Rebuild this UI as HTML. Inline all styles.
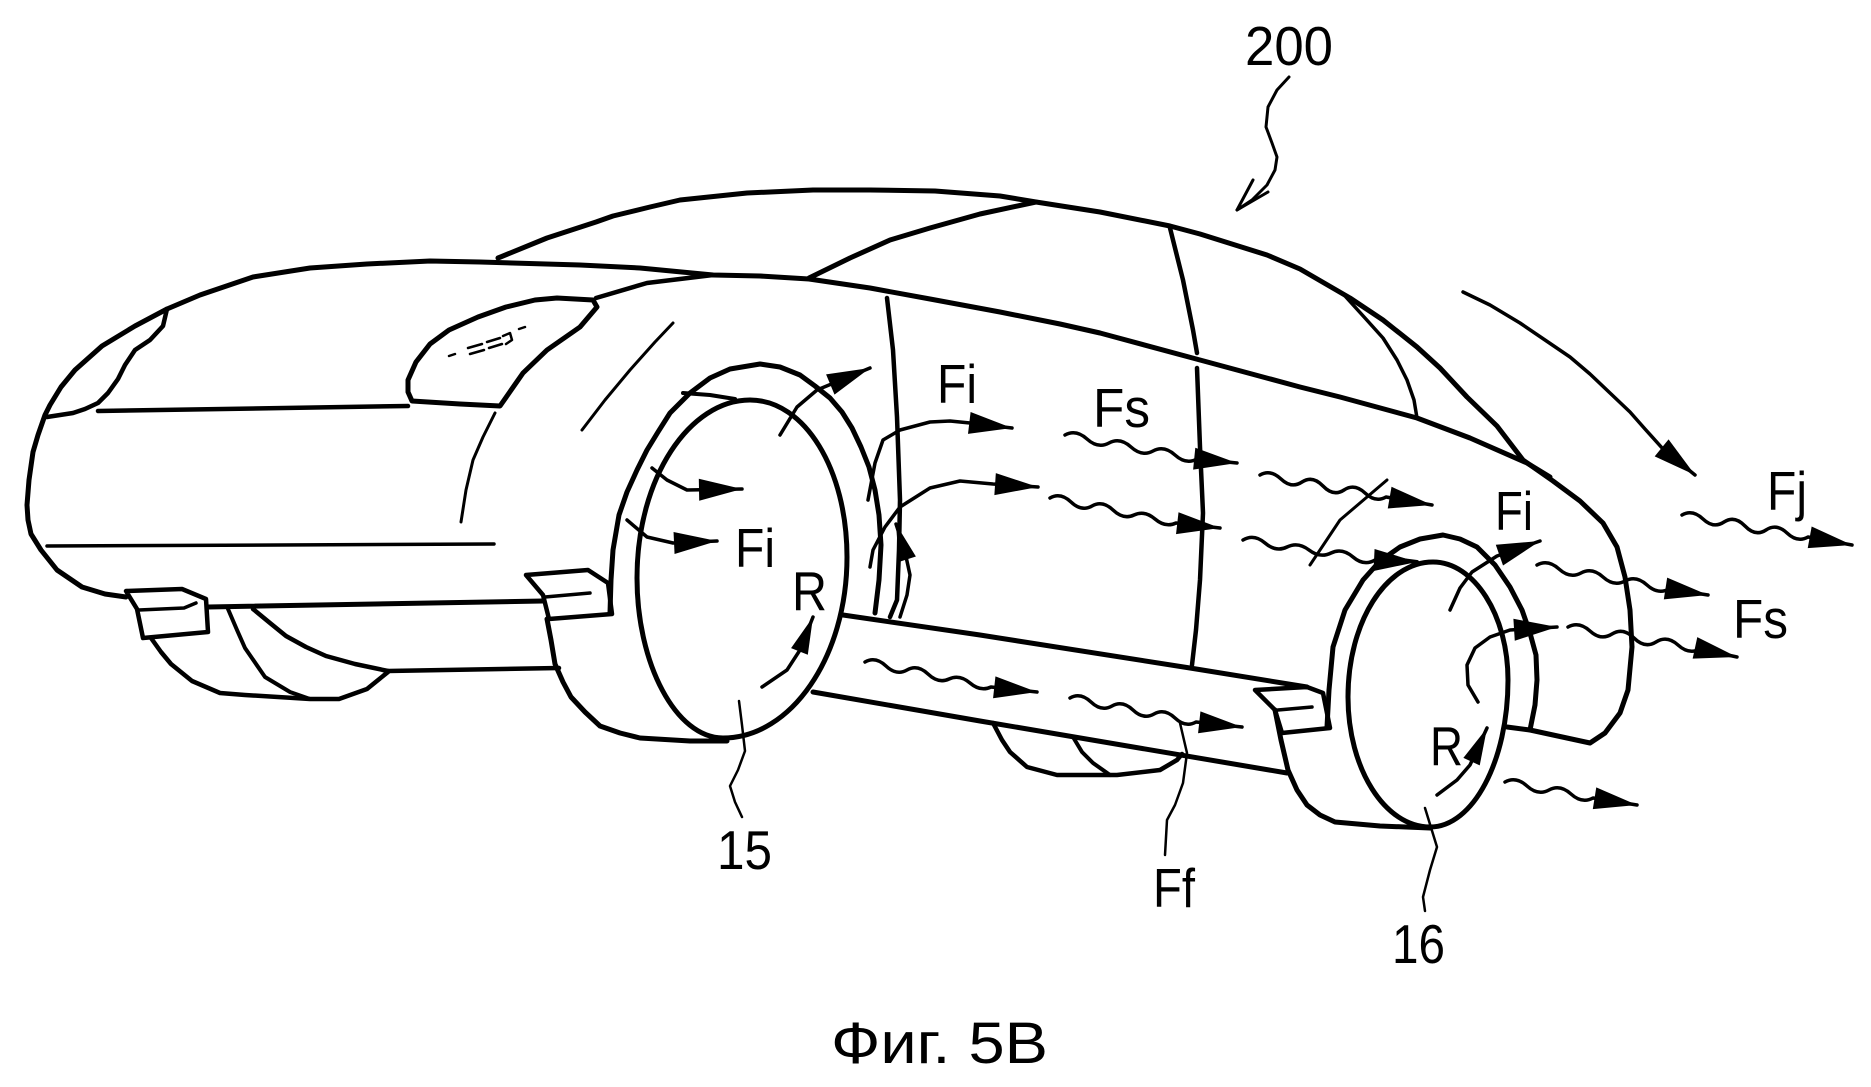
<!DOCTYPE html>
<html><head><meta charset="utf-8"><style>
html,body{margin:0;padding:0;background:#fff;}
svg{display:block;}
text{font-family:"Liberation Sans","DejaVu Sans",sans-serif;fill:#000;}
</style></head><body>
<svg width="1871" height="1087" viewBox="0 0 1871 1087" xmlns="http://www.w3.org/2000/svg">
<defs>
<marker id="a" markerUnits="userSpaceOnUse" markerWidth="46" markerHeight="26" viewBox="0 0 46 26" refX="44" refY="13" orient="auto"><path d="M1,2 L44,13 L1,24 Z" fill="#000" stroke="none"/></marker>
<marker id="s" markerUnits="userSpaceOnUse" markerWidth="40" markerHeight="22" viewBox="0 0 40 22" refX="38" refY="11" orient="auto"><path d="M1,2 L38,11 L1,20 Z" fill="#000" stroke="none"/></marker>
</defs>
<rect width="1871" height="1087" fill="#fff"/>
<g fill="none" stroke="#000" stroke-linejoin="round" stroke-linecap="round">
<!-- roof arc + rear fender -->
<polyline stroke-width="5" points="498,258 547,238 596,222 613,216 650,207 680,200 747,193 813,190 870,190 935,191 1000,196 1036,202 1100,212 1170,226 1200,234 1267,255 1300,269 1350,298 1383,320 1417,347 1440,368 1467,397 1497,426 1523,460 1553,481 1580,501 1603,523 1617,547 1625,577 1630,610 1632,647 1628,690 1620,713 1605,733 1590,743 1530,730 1507,727"/>
<!-- windshield -->
<polyline stroke-width="5" points="809,278 850,258 890,240 930,228 980,214 1036,202"/>
<!-- hood / belt line -->
<polyline stroke-width="5" points="167,309 200,295 253,277 310,268 367,264 430,261 480,262 580,265 640,268 713,275 760,276 809,279 870,288 930,299 1000,312 1060,324 1100,333 1200,360 1300,387 1340,397 1417,418 1470,438 1527,463 1550,477"/>
<!-- fender line -->
<polyline stroke-width="4.5" points="596,298 647,283 713,275"/>
<!-- headlamp -->
<polygon stroke-width="5" points="412,401 460,404 500,406 523,373 547,350 580,327 597,307 593,300 557,298 535,300 506,307 478,317 449,330 430,344 416,362 408,380 408,392"/>
<g stroke-width="2.5">
<line x1="449" y1="356" x2="455" y2="354"/>
<line x1="468" y1="348" x2="482" y2="344"/>
<line x1="470" y1="354" x2="484" y2="350"/>
<line x1="487" y1="342" x2="500" y2="338"/>
<line x1="489" y1="348" x2="502" y2="344"/>
<polyline points="503,336 510,333 512,340 506,344"/>
<line x1="519" y1="329" x2="525" y2="327"/>
</g>
<!-- nose -->
<polyline stroke-width="5" points="167,309 135,326 102,346 75,370 61,387 50,405 45,415 38,435 33,452 29,480 27,505 28,520 31,534 41,550 57,570 82,587 105,594 126,597"/>
<!-- lens -->
<polyline stroke-width="4.5" points="167,309 163,326 150,340 135,350 125,365 118,379 108,393 98,403 85,409 73,413 47,417"/>
<line stroke-width="4.5" x1="98" y1="411" x2="408" y2="406"/>
<line stroke-width="3.5" x1="47" y1="546" x2="494" y2="544"/>
<!-- creases -->
<polyline stroke-width="3" points="495,413 483,437 473,460 466,490 461,522"/>
<polyline stroke-width="3" points="673,323 655,342 630,370 605,400 582,430"/>
<!-- left step box -->
<polygon stroke-width="4.5" points="126,591 182,589 206,599 208,632 143,638 137,609"/>
<polyline stroke-width="3.5" points="139,610 184,608 196,603"/>
<!-- body bottom -->
<line stroke-width="5" x1="208" y1="607" x2="543" y2="601"/>
<!-- right front step box -->
<polygon stroke-width="4.5" points="526,575 588,570 608,583 612,614 549,619 543,595"/>
<line stroke-width="3.5" x1="545" y1="597" x2="590" y2="593"/>
<!-- far front wheel -->
<polyline stroke-width="4.5" points="151,638 161,652 171,664 192,681 220,693 245,695 310,699 339,699 367,689 388,672"/>
<polyline stroke-width="4" points="228,609 237,630 245,648 265,677 290,692 310,699"/>
<polyline stroke-width="4.5" points="253,609 270,623 286,636 306,647 326,656 355,664 388,671"/>
<line stroke-width="4.5" x1="388" y1="671" x2="559" y2="668"/>
<!-- front tire -->
<polyline stroke-width="5" points="547,619 551,640 555,664 563,682 571,697 585,712 600,726 620,733 640,738 690,741 727,741"/>
<polyline stroke-width="5" points="610,613 611,580 613,550 619,515 627,492 637,470 647,450 658,432 670,413 690,393 710,378 730,369 760,364 780,367 800,375 815,386 830,398 842,412 852,428 861,447 869,467 875,490 879,515 881,545 879,580 875,613"/>
<path stroke-width="5" d="M750,400 C805,400 847,470 847,557 C847,657 791,738 723,738 C676,738 637,664 637,578 C637,477 690,400 750,400 Z"/>
<polyline stroke-width="4" points="683,393 710,395 735,399"/>
<!-- sills -->
<polyline stroke-width="5" points="843,615 980,635 1190,668 1307,687"/>
<polyline stroke-width="5" points="813,692 980,721 1287,773"/>
<!-- door line & B pillar -->
<polyline stroke-width="4.5" points="887,298 893,350 897,417 900,500 899,550 897,600 890,617"/>
<polyline stroke-width="4.5" points="1170,228 1183,280 1193,330 1197,353"/>
<polyline stroke-width="4.5" points="1197,368 1200,447 1203,513 1200,580 1196,630 1192,665"/>
<!-- rear window -->
<polyline stroke-width="3.5" points="1345,296 1365,318 1383,338 1397,360 1407,380 1414,400 1417,418"/>
<!-- rear step box -->
<polygon stroke-width="4.5" points="1255,690 1307,687 1323,693 1330,728 1282,733 1275,710"/>
<line stroke-width="3.5" x1="1278" y1="710" x2="1312" y2="707"/>
<!-- rear tire -->
<polyline stroke-width="5" points="1275,710 1281,740 1288,770 1297,790 1307,805 1320,815 1335,822 1380,826 1430,828"/>
<polyline stroke-width="5" points="1327,727 1329,690 1333,647 1345,610 1363,580 1380,561 1400,547 1420,539 1443,535 1460,539 1477,547 1495,565 1510,587 1522,610 1530,633 1536,655 1537,680 1535,705 1530,730"/>
<path stroke-width="5" d="M1433,562 C1474,562 1508,615 1508,680 C1508,761 1473,827 1430,827 C1385,827 1348,769 1348,697 C1348,622 1386,562 1433,562 Z"/>
<polyline stroke-width="4" points="1387,558 1417,562"/>
<!-- far rear wheel -->
<polyline stroke-width="4.5" points="993,723 1002,740 1010,752 1027,767 1057,775 1117,775 1160,770 1177,760 1182,754"/>
<polyline stroke-width="4" points="1073,737 1082,752 1093,763 1110,775"/>
<!-- rear crease -->
<polyline stroke-width="3" points="1310,565 1340,520 1387,480"/>

<!-- arrows -->
<g stroke-width="3.5">
<polyline marker-end="url(#a)" points="652,468 667,480 687,490 742,489"/>
<polyline marker-end="url(#a)" points="627,520 647,537 673,543 717,541"/>
<polyline marker-end="url(#s)" points="762,687 787,670 800,650 813,617"/>
<polyline marker-end="url(#a)" points="780,435 797,407 817,390 870,368"/>
<polyline marker-end="url(#a)" points="868,500 875,463 883,440 900,430 930,422 950,421 970,423 1012,428"/>
<polyline marker-end="url(#a)" points="870,567 873,550 885,527 900,507 930,488 960,481 993,484 1038,487"/>
<polyline marker-end="url(#s)" points="900,617 907,595 910,575 905,552 896,524"/>
<path marker-end="url(#a)" d="M1065,435 Q1076,429 1087,439 T1109,443 T1131,447 T1153,451 T1175,455 T1197,459 L1237,463"/>
<path marker-end="url(#a)" d="M1050,498 Q1060.5,492 1071,502 T1092,506 T1113,510 T1134,515 T1155,519 T1176,523 L1220,528"/>
<path marker-end="url(#a)" d="M865,662 Q875.5,656 886,666 T907,670 T928,674 T949,679 T970,683 T991,687 L1037,692"/>
<path marker-end="url(#a)" d="M1070,698 Q1080.5,692 1091,702 T1112,706 T1133,710 T1154,714 T1175,718 T1196,722 L1242,727"/>
<path marker-end="url(#a)" d="M1260,475 Q1270.5,469 1281,479 T1302,482 T1323,486 T1344,490 T1365,493 T1386,497 L1432,505"/>
<path marker-end="url(#a)" d="M1243,540 Q1254,533.5 1265,543 T1287,547 T1309,550 T1331,553 T1353,557 T1375,560 L1417,562"/>
<polyline marker-end="url(#s)" points="1437,795 1457,780 1470,765 1487,728"/>
<polyline marker-end="url(#a)" points="1478,702 1468,685 1467,665 1475,648 1490,637 1510,630 1557,627"/>
<polyline marker-end="url(#a)" points="1450,610 1460,588 1472,572 1497,556 1540,541"/>
<path marker-end="url(#a)" d="M1537,565 Q1548,559 1559,569 T1581,573 T1603,577 T1625,581 T1647,585 T1669,589 L1708,595"/>
<path marker-end="url(#a)" d="M1568,627 Q1579,621 1590,631 T1612,634 T1634,638 T1656,642 T1678,645 T1700,649 L1737,657"/>
<path marker-end="url(#a)" d="M1505,782 Q1516,776 1527,786 T1549,790 T1571,794 T1593,798 L1637,805"/>
<path marker-end="url(#a)" d="M1682,515 Q1692.5,509 1703,519 T1724,522 T1745,526 T1766,530 T1787,533 T1808,537 L1852,545"/>
<polyline marker-end="url(#a)" points="1463,292 1490,305 1520,323 1545,340 1570,357 1590,374 1610,393 1630,412 1645,429 1663,449 1695,475"/>
</g>

<!-- leaders -->
<g stroke-width="2.5">
<polyline points="739,701 742,725 745,751 738,770 730,786 735,802 742,817"/>
<polyline points="1180,723 1187,753 1183,783 1175,805 1167,820 1165,855"/>
<polyline points="1425,808 1437,847 1430,870 1423,897 1425,911"/>
</g>
<g stroke-width="3">
<polyline points="1289,77 1277,90 1268,107 1266,127 1272,143 1277,157 1275,170 1267,185 1252,200 1237,210"/>
<polyline points="1253,180 1237,210 1268,192"/>
</g>
</g>

<!-- labels -->
<g font-size="55">
<text x="1245" y="65" textLength="88" lengthAdjust="spacingAndGlyphs">200</text>
<text x="937" y="403" textLength="40" lengthAdjust="spacingAndGlyphs">Fi</text>
<text x="1093" y="427" textLength="57" lengthAdjust="spacingAndGlyphs">Fs</text>
<text x="735" y="567" textLength="40" lengthAdjust="spacingAndGlyphs">Fi</text>
<text x="792" y="610" textLength="35" lengthAdjust="spacingAndGlyphs">R</text>
<text x="1495" y="530" textLength="38" lengthAdjust="spacingAndGlyphs">Fi</text>
<text x="1767" y="510" textLength="40" lengthAdjust="spacingAndGlyphs">Fj</text>
<text x="1733" y="638" textLength="55" lengthAdjust="spacingAndGlyphs">Fs</text>
<text x="1430" y="765" textLength="33" lengthAdjust="spacingAndGlyphs">R</text>
<text x="717" y="869" textLength="55" lengthAdjust="spacingAndGlyphs">15</text>
<text x="1153" y="907" textLength="42" lengthAdjust="spacingAndGlyphs">Ff</text>
<text x="1392" y="963" textLength="53" lengthAdjust="spacingAndGlyphs">16</text>
</g>
<text x="831" y="1063" font-size="58" textLength="217" lengthAdjust="spacingAndGlyphs">Фиг. 5B</text>
</svg>
</body></html>
